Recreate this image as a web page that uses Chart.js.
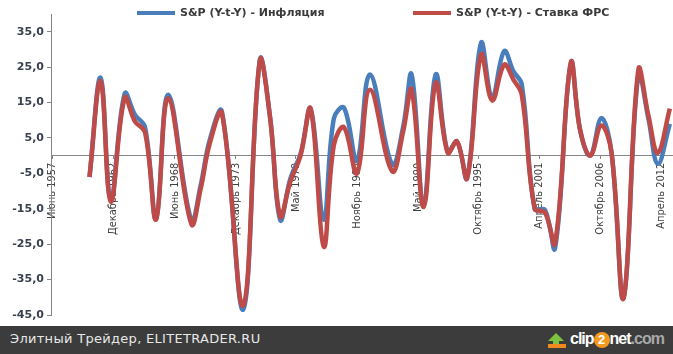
<!DOCTYPE html>
<html lang="ru">
<head>
<meta charset="utf-8">
<script src="https://cdn.jsdelivr.net/npm/chart.js@4/dist/chart.umd.min.js"></script>
<style>
  body { margin: 0; background: #fff; }
  #wrap { position: relative; width: 673px; height: 326px; }
  #bar {
    position: relative; width: 673px; height: 28px; background: #3c3c3c;
    font-family: "DejaVu Sans", sans-serif; color: #e8e8e8;
  }
  #bar .src { position: absolute; left: 10px; top: 5px; font-size: 13px; letter-spacing: 0.3px; }
  #bar .logo { position: absolute; left: 548px; top: 3px; height: 22px; }
  #bar .arrow {
    position: absolute; left: 0; top: 4px; width: 0; height: 0;
    border-left: 8px solid transparent; border-right: 8px solid transparent;
    border-bottom: 8px solid #7ec242;
  }
  #bar .stem { position: absolute; left: 5px; top: 11px; width: 6px; height: 5px; background: #7ec242; }
  #bar .base { position: absolute; left: 0; top: 15px; width: 18px; height: 4px; background: #f08a1c; }
  #bar .name {
    position: absolute; left: 22px; top: 1px; font: bold 16px "Liberation Sans", Arial, sans-serif;
    letter-spacing: -1px; color: #fff; white-space: nowrap;
  }
  #bar .two {
    display: inline-block; width: 16px; height: 16px; border-radius: 50%;
    background: #f39a1e; text-align: center; line-height: 16px; font-size: 13px; letter-spacing: 0;
  }
  #bar .com { color: #a9a9a9; }
</style>
</head>
<body>
<div id="wrap"><canvas id="chart" width="673" height="326"></canvas></div>
<div id="bar">
  <span class="src">Элитный Трейдер, ELITETRADER.RU</span>
  <div class="logo">
    <div class="arrow"></div><div class="stem"></div><div class="base"></div>
    <span class="name">clip<span class="two">2</span>net<span class="com">.com</span></span>
  </div>
</div>
<script>
/* S&P (Y-t-Y) против инфляции и ставки ФРС, 1957–2012
   x — номер месяца от января 1957 (0 = янв. 1957) */

var months = [45, 57, 68, 83, 94, 105, 117, 130, 155, 165,
              175, 188, 211, 229, 240, 251, 262, 273, 284, 298,
              309, 320, 334, 348, 372, 384, 393, 406, 419, 432,
              442, 453, 468, 480, 493, 503, 512, 526, 537, 548,
              565, 575, 586, 598, 609, 622, 638, 649, 659, 672];

var inflation = [-6.0, 22.0, -12.5, 17.5, 11.6, 8.0, -17.8, 17.2, -18.3, -8.5,
                 4.5, 12.5, -43.5, 27.0, 11.0, -18.1, -6.5, 0.5, 13.2, -18.1,
                 10.5, 13.5, -1.5, 22.9, -2.5, 8.3, 22.9, -13.5, 22.9, 1.0,
                 4.0, -6.3, 31.8, 16.5, 29.5, 23.8, 20.1, -15.0, -15.3, -26.1,
                 26.2, 7.3, 0.0, 10.6, 0.8, -40.2, 22.9, 10.2, -2.3, 9.0];

var fedRate = [-6.0, 21.0, -13.0, 16.3, 9.7, 6.6, -18.0, 16.2, -19.3, -9.5,
               3.5, 12.0, -42.3, 26.8, 11.0, -17.1, -7.3, 0.0, 13.2, -25.7,
               3.0, 8.0, -5.0, 18.6, -4.4, 7.0, 18.6, -14.5, 20.5, 0.8,
               4.0, -6.3, 28.5, 15.6, 25.7, 21.5, 17.2, -15.0, -16.0, -24.8,
               26.2, 7.3, 0.0, 8.5, 0.8, -40.2, 24.3, 11.1, 0.8, 13.3];

var tickMonths = [5, 71, 137, 203, 268, 334, 400, 465, 531, 597, 663];
var tickLabels = ['Июнь 1957', 'Декабрь 1962', 'Июнь 1968', 'Декабрь 1973', 'Май 1979',
                  'Ноябрь 1984', 'Май 1990', 'Октябрь 1995', 'Апрель 2001', 'Октябрь 2006', 'Апрель 2012'];

var yTicks = [-45, -35, -25, -15, -5, 5, 15, 25, 35];

function pts(values) {
  return months.map(function(m, i) { return { x: m, y: values[i] }; });
}

// легенда сверху — рисуется вручную, у Excel большой промежуток между пунктами
var topLegend = {
  id: 'topLegend',
  afterDraw: function(chart) {
    var ctx = chart.ctx;
    var startX = [137, 413];
    ctx.save();
    ctx.font = 'bold 11px "DejaVu Sans", sans-serif';
    ctx.textBaseline = 'middle';
    chart.data.datasets.forEach(function(ds, i) {
      var x = startX[i], y = 13;
      ctx.strokeStyle = ds.borderColor;
      ctx.lineWidth = 4;
      ctx.beginPath(); ctx.moveTo(x, y); ctx.lineTo(x + 38, y); ctx.stroke();
      ctx.fillStyle = '#3a3a3a';
      ctx.fillText(ds.label, x + 43, y);
    });
    ctx.restore();
  }
};

new Chart(document.getElementById('chart'), {
  type: 'line',
  data: {
    datasets: [
      { label: 'S&P (Y-t-Y) - Инфляция', data: pts(inflation), borderColor: '#4a7ebb',
        borderWidth: 4.5, pointRadius: 0, fill: false, tension: 0.4, order: 1 },
      { label: 'S&P (Y-t-Y) - Ставка ФРС', data: pts(fedRate), borderColor: '#be4b48',
        borderWidth: 4.5, pointRadius: 0, fill: false, tension: 0.4, order: 0 }
    ]
  },
  options: {
    responsive: false,
    animation: false,
    devicePixelRatio: 1,
    layout: { padding: { top: 14, bottom: 11, left: 0, right: 0 } },
    plugins: { legend: { display: false }, tooltip: { enabled: false } },
    scales: {
      x: {
        type: 'linear',
        min: 3.4, max: 675.4,
        position: { y: 0 },
        afterBuildTicks: function(s) { s.ticks = tickMonths.map(function(v) { return { value: v }; }); },
        afterFit: function(s) { s.paddingLeft = 0; s.paddingRight = 0; },
        grid: { drawOnChartArea: false, drawTicks: true, tickLength: 3, color: '#868686' },
        border: { color: '#868686' },
        ticks: {
          autoSkip: false, minRotation: 90, maxRotation: 90, padding: 4,
          color: '#404040',
          font: { family: "'Liberation Sans Narrow', 'DejaVu Sans Condensed', sans-serif", size: 11 },
          callback: function(v) { var k = tickMonths.indexOf(v); return k >= 0 ? tickLabels[k] : ''; }
        }
      },
      y: {
        min: -45, max: 40,
        afterBuildTicks: function(s) { s.ticks = yTicks.map(function(v) { return { value: v }; }); },
        afterFit: function(s) { s.width = 51; },
        grid: { drawOnChartArea: false, drawTicks: true, tickLength: 4, color: '#868686' },
        border: { color: '#868686' },
        ticks: {
          padding: 3, color: '#38404e',
          font: { family: "'DejaVu Sans', sans-serif", size: 11, weight: 'bold' },
          callback: function(v) { return v.toFixed(1).replace('.', ','); }
        }
      }
    }
  },
  plugins: [topLegend]
});
</script>
</body>
</html>
